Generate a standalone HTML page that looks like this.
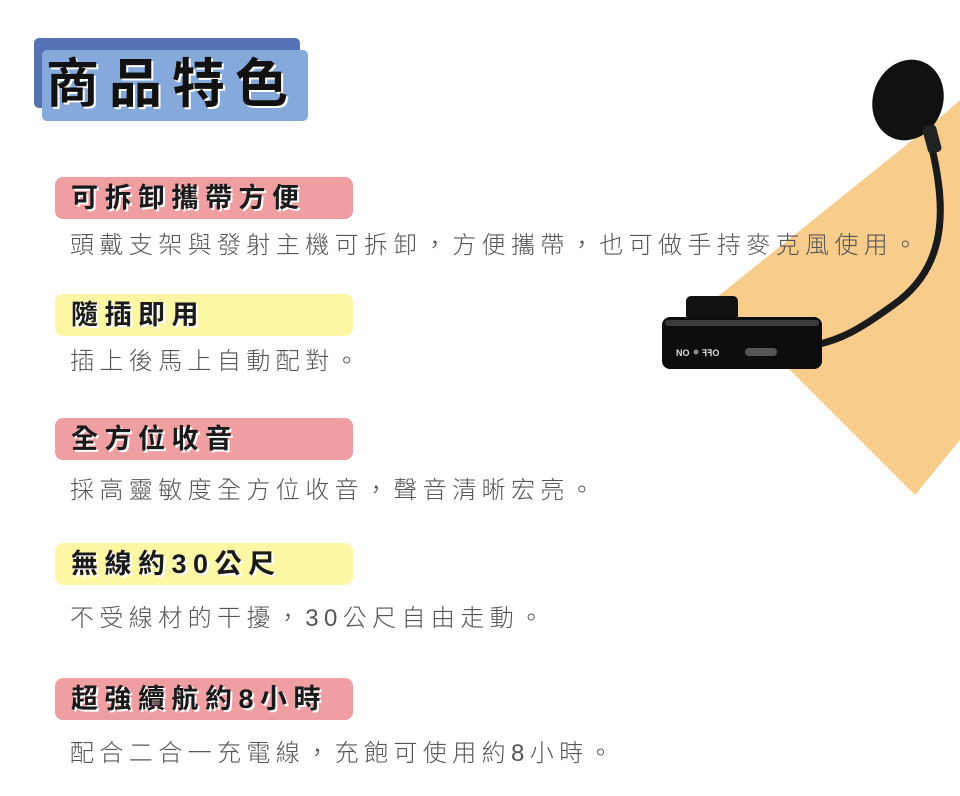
<!DOCTYPE html>
<html><head><meta charset="utf-8"><style>
body{margin:0;width:960px;height:796px;background:#fff;position:relative;overflow:hidden;font-family:"Liberation Sans","Noto Sans CJK TC",sans-serif}
.a{position:absolute}
.pill{position:absolute;left:55px;width:298px;height:42px;border-radius:8px}
.pk{background:#ef9ea1}.yl{background:#fdf6a5}
.pt{position:absolute;left:71px;font-size:27px;font-weight:bold;color:#1a1a1a;letter-spacing:6.5px;text-shadow:2px 2px 0 #fff;line-height:42px;white-space:nowrap}
.bt{position:absolute;left:70px;font-size:24px;color:#555;letter-spacing:5.4px;white-space:nowrap;line-height:30px;font-weight:300}
</style></head><body>
<svg class="a" style="left:0;top:0" width="960" height="796">
<polygon points="935,122 960,100 960,440 915,495 717,297" fill="#f8cd8c"/>
<path d="M930,140 C945,200 950,260 900,300 C860,330 840,340 815,345" stroke="#1a1a1a" stroke-width="7" fill="none"/>
<ellipse cx="908" cy="100" rx="35" ry="41" transform="rotate(20 908 100)" fill="#111"/>
<rect x="925" y="125" width="14" height="28" rx="4" fill="#222" transform="rotate(-15 932 139)"/>
<rect x="686" y="296" width="52" height="28" rx="5" fill="#111"/>
<rect x="662" y="317" width="160" height="52" rx="8" fill="#0d0d0d"/>
<rect x="665" y="320" width="154" height="6" rx="3" fill="#3a3a3a"/>
<rect x="745" y="348" width="32" height="8" rx="4" fill="#555"/>
<circle cx="696" cy="352" r="2.5" fill="#888"/>
<text x="676" y="356" font-size="9" font-weight="bold" fill="#ddd" font-family="Liberation Sans">NO</text>
<text x="702" y="356" font-size="9" font-weight="bold" fill="#ddd" font-family="Liberation Sans">ꟻꟻO</text>
</svg>
<div class="a" style="left:34px;top:38px;width:266px;height:70px;background:#5572b4;border-radius:5px"></div>
<div class="a" style="left:42px;top:50px;width:266px;height:71px;background:#86a9db;border-radius:5px"></div>
<div class="a" style="left:46px;top:52px;font-size:53px;font-weight:bold;color:#111;letter-spacing:10px;text-shadow:2px 2px 0 #fff;line-height:66px;white-space:nowrap">商品特色</div>

<div class="pill pk" style="top:177px"></div><div class="pt" style="top:177px">可拆卸攜帶方便</div>
<div class="bt" style="top:231px">頭戴支架與發射主機可拆卸，方便攜帶，也可做手持麥克風使用。</div>

<div class="pill yl" style="top:294px"></div><div class="pt" style="top:294px">隨插即用</div>
<div class="bt" style="top:347px">插上後馬上自動配對。</div>

<div class="pill pk" style="top:418px"></div><div class="pt" style="top:418px">全方位收音</div>
<div class="bt" style="top:476px">採高靈敏度全方位收音，聲音清晰宏亮。</div>

<div class="pill yl" style="top:543px"></div><div class="pt" style="top:543px">無線約30公尺</div>
<div class="bt" style="top:604px">不受線材的干擾，30公尺自由走動。</div>

<div class="pill pk" style="top:678px"></div><div class="pt" style="top:678px">超強續航約8小時</div>
<div class="bt" style="top:739px">配合二合一充電線，充飽可使用約8小時。</div>
</body></html>
